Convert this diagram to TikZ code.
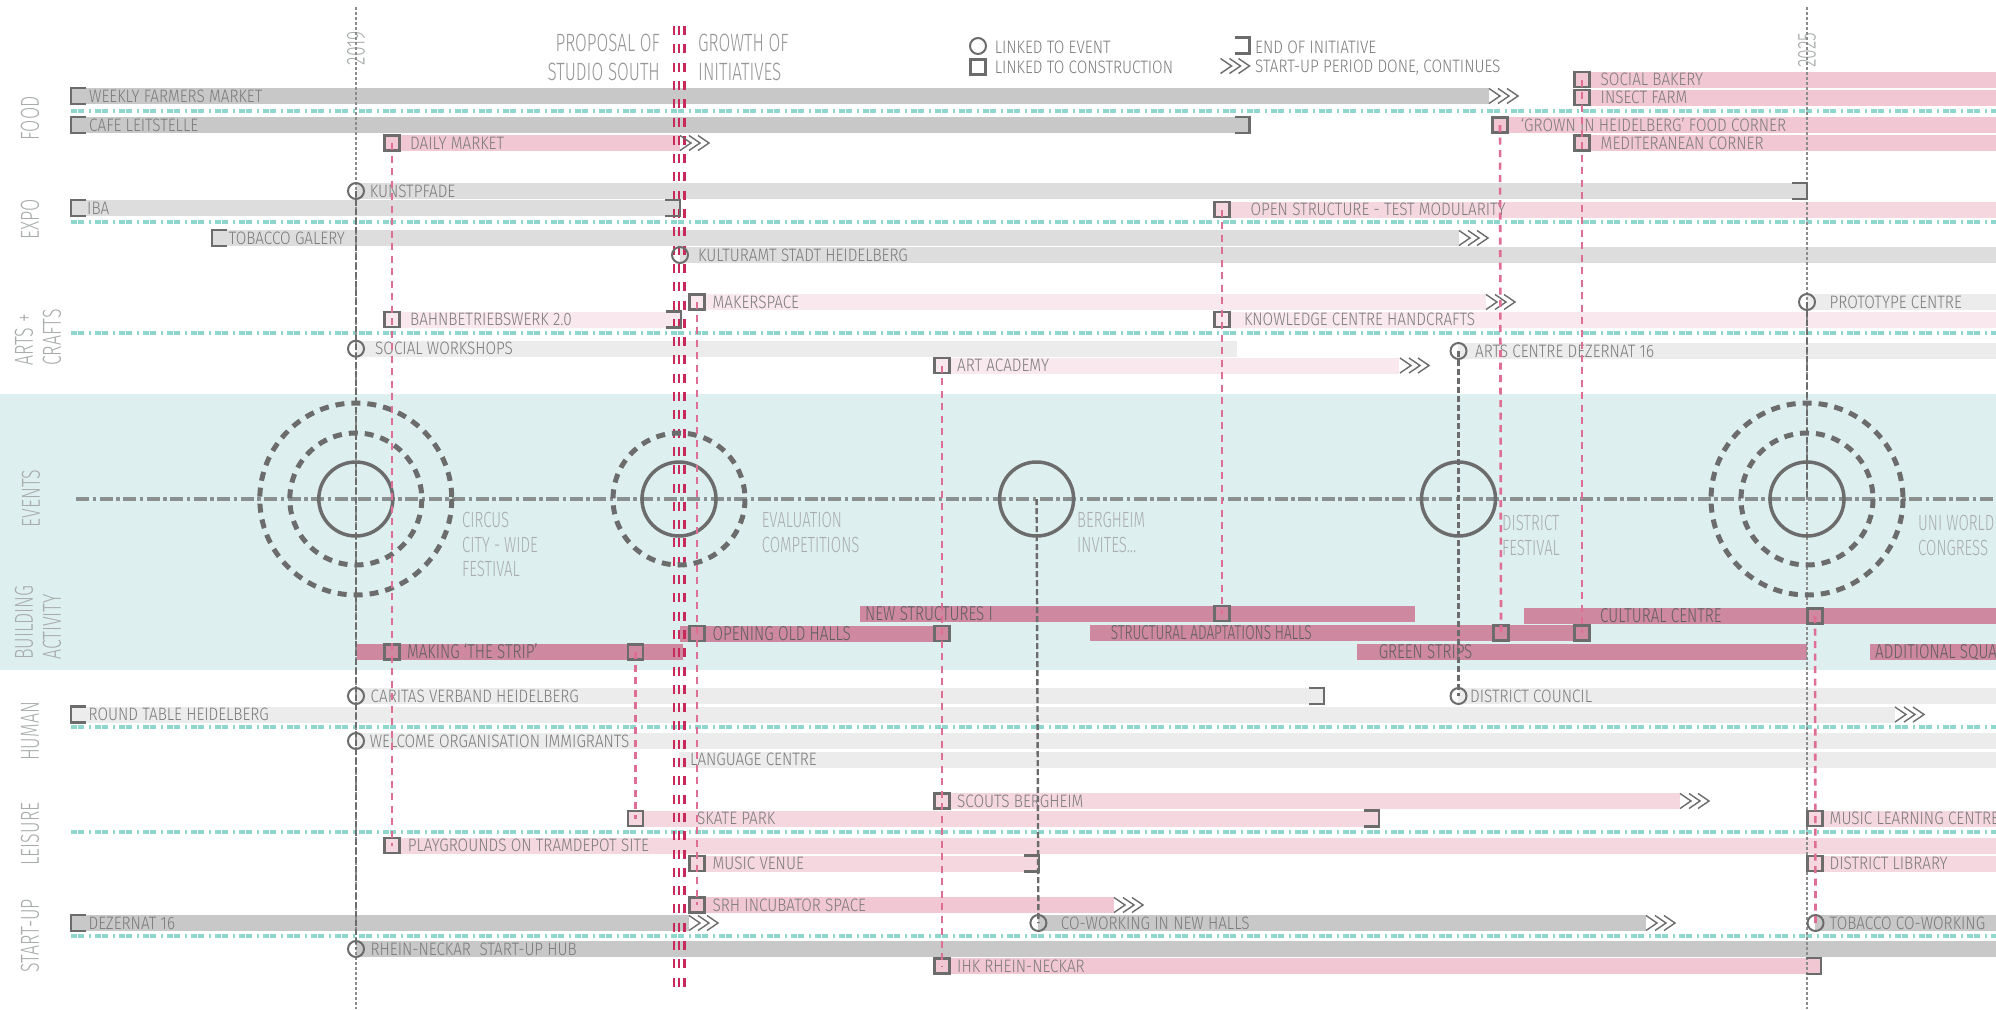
\documentclass[tikz,border=0pt]{standalone}
\usepackage{fontspec}
\usepackage{xcolor}
\usepackage{tikz}
\usetikzlibrary{positioning}
\newfontfamily\lblfont{Fira Sans Light}[FakeStretch=0.85]
\newfontfamily\cndfont{Fira Sans Light}[FakeStretch=0.68]
\newfontfamily\bldfont{Fira Sans Light}[FakeStretch=0.76]
\definecolor{tlteal}{RGB}{221,240,239}
\definecolor{tllane}{RGB}{143,214,207}
\definecolor{tldark}{RGB}{108,108,108}
\definecolor{tlgrayA}{RGB}{200,200,200}
\definecolor{tlgrayB}{RGB}{221,221,221}
\definecolor{tlgrayC}{RGB}{236,236,236}
\definecolor{tlpinkA}{RGB}{240,199,211}
\definecolor{tlpinkB}{RGB}{245,215,224}
\definecolor{tlpinkC}{RGB}{249,232,238}
\definecolor{tlbuild}{RGB}{206,136,159}
\definecolor{tlcrimson}{RGB}{200,40,90}
\definecolor{tlrose}{RGB}{222,110,147}
\definecolor{tltext}{RGB}{122,122,122}
\definecolor{tlbldtext}{RGB}{95,95,95}
\definecolor{tllight}{RGB}{168,172,172}
\definecolor{tlhead}{RGB}{150,150,150}
\definecolor{tlaxis}{RGB}{138,144,144}
\definecolor{tlyear}{RGB}{140,140,140}

\begin{document}
\begin{tikzpicture}[x=1pt,y=-1pt,
  sqm/.style={rectangle,draw=tldark,line width=2.2pt,minimum size=15pt,inner sep=0pt},
  evm/.style={circle,draw=tldark,line width=2pt,minimum size=16pt,inner sep=0pt},
  lbl/.style={anchor=west,inner sep=0pt,text=tltext,font=\lblfont\fontsize{18}{21}\selectfont,text height=12.4pt,text depth=0pt},
  bld/.style={anchor=west,inner sep=0pt,text=tlbldtext,font=\bldfont\fontsize{20}{24}\selectfont,text height=13.8pt,text depth=0pt},
  evlbl/.style={anchor=north west,inner sep=0pt,align=left,text=tllight,font=\cndfont\fontsize{22}{24.5}\selectfont},
  cat/.style={rotate=90,inner sep=0pt,text=tllight,font=\cndfont\fontsize{26}{28}\selectfont},
  head/.style={inner sep=0pt,text=tlhead,font=\cndfont\fontsize{25}{29}\selectfont},
  evc/.style={circle,draw=tldark,line width=3.5pt,minimum size=74pt,inner sep=0pt},
  ring/.style={draw=tldark,line width=5pt,dash pattern=on 9pt off 7pt},
  lane/.style={tllane,line width=3.3pt,dash pattern=on 6pt off 1pt on 6pt off 4.5pt on 2pt off 4.5pt},
  evaxis/.style={draw=tlaxis,line width=4.5pt,dash pattern=on 13pt off 3.5pt on 3.5pt off 3.5pt},
  yraxis/.style={draw=tlyear,line width=1.6pt,dash pattern=on 3pt off 2pt},
  evlink/.style={draw=tldark,line width=2.4pt,dash pattern=on 6pt off 3pt},
  clink/.style={draw=tlrose,line width=2.6pt,dash pattern=on 7pt off 5.5pt},
  crim/.style={draw=tlcrimson,line width=2.6pt,dash pattern=on 9pt off 9.3pt},
  startbr/.pic={\draw[tldark,line width=2.4pt] (15,-8) -- (0,-8) -- (0,8) -- (15,8);},
  endbr/.pic={\draw[tldark,line width=2.4pt] (-15,-8) -- (0,-8) -- (0,8) -- (-15,8);},
  chev/.pic={\foreach \i in {0,9,18} \draw[tldark,line width=1.4pt] (\i,-7.5) -- (\i+11,0) -- (\i,7.5);}
]
\useasboundingbox (0,0) rectangle (1996,1009);
\fill[white] (0,0) rectangle (1996,1009);
\fill[tlteal] (0,394) rectangle (1996,670);

% bars: food
\fill[tlgrayA] (71,88) rectangle (1489,104);
\fill[tlgrayA] (71,117) rectangle (1249.5,133);
\fill[tlpinkA] (385,135) rectangle (680,151);
\fill[tlpinkA] (1574,71.5) rectangle (1996,87.5);
\fill[tlpinkA] (1574,89.5) rectangle (1996,105.5);
\fill[tlpinkA] (1492,117) rectangle (1996,133);
\fill[tlpinkA] (1574,135) rectangle (1996,151);
% bars: expo
\fill[tlgrayB] (356,183) rectangle (1807,199);
\fill[tlgrayB] (71,200) rectangle (680,216);
\fill[tlpinkB] (1214,201.5) rectangle (1996,217.5);
\fill[tlgrayB] (212,230) rectangle (1459,246);
\fill[tlgrayB] (680,247) rectangle (1996,263);
% bars: arts + crafts
\fill[tlpinkC] (690,294) rectangle (1486,310);
\fill[tlgrayC] (1807,294) rectangle (1996,310);
\fill[tlpinkC] (385,311.5) rectangle (681,327.5);
\fill[tlpinkC] (1214,311.5) rectangle (1996,327.5);
\fill[tlgrayC] (356,340.7) rectangle (1237,356.7);
\fill[tlgrayC] (1458,343) rectangle (1996,359);
\fill[tlpinkC] (934,357.5) rectangle (1399,373.5);
% bars: building activity
\fill[tlbuild] (860,605.7) rectangle (1414.5,621.7);
\fill[tlbuild] (680,625.7) rectangle (949,641.7);
\fill[tlbuild] (357,644) rectangle (683,660);
\fill[tlbuild] (1090,625) rectangle (1591,641);
\fill[tlbuild] (1524,608) rectangle (1996,624);
\fill[tlbuild] (1357,644) rectangle (1807,660);
\fill[tlbuild] (1870,644) rectangle (1996,660);
% bars: human
\fill[tlgrayC] (356,688) rectangle (1324,704);
\fill[tlgrayC] (1458,688) rectangle (1996,704);
\fill[tlgrayC] (71,706.5) rectangle (1895,722.5);
\fill[tlgrayC] (356,733) rectangle (1996,749);
\fill[tlgrayC] (679,751.5) rectangle (1996,767.5);
% bars: leisure
\fill[tlpinkB] (934,793) rectangle (1680,809);
\fill[tlpinkB] (627,810.5) rectangle (1379,826.5);
\fill[tlpinkB] (1807,810.5) rectangle (1996,826.5);
\fill[tlpinkB] (385,837.5) rectangle (1996,853.5);
\fill[tlpinkB] (689,855.5) rectangle (1039,871.5);
\fill[tlpinkB] (1807,855.5) rectangle (1996,871.5);
% bars: start-up
\fill[tlpinkA] (689,897) rectangle (1114,913);
\fill[tlgrayA] (71,915) rectangle (689,931);
\fill[tlgrayA] (1038,915) rectangle (1646,931);
\fill[tlgrayA] (1815,915) rectangle (1996,931);
\fill[tlgrayA] (356,941) rectangle (1996,957);
\fill[tlpinkA] (934,958) rectangle (1821,974);

% lanes
\foreach \y in {111,222,333,727,832,936}
  \draw[lane] (71,\y) -- (1996,\y);

% year axes and proposal line
\node[cat,text=tllight] (y19) at (356,48) {2019};
\node[cat,text=tllight] (y25) at (1807,50) {2025};
\coordinate (y19top) at (356,7);
\coordinate (y19bot) at (356,1009);
\coordinate (y25top) at (1807,7);
\coordinate (y25bot) at (1807,1009);
\draw[yraxis] (y19top) -- (y19bot);
\draw[yraxis] (y25top) -- (y25bot);
\coordinate (gtop) at (679,26);
\coordinate (gbot) at (679,993);
\foreach \dx in {-5.2,0,5.2}
  \draw[crim] ([xshift=\dx pt]gtop) -- ([xshift=\dx pt]gbot);

% events
\coordinate (evl) at (76,499);
\coordinate (evr) at (1996,499);
\draw[evaxis] (evl) -- (evr);
\node[evc] (circus) at (355.8,499) {};
\node[evc] (evalu) at (679,499) {};
\node[evc] (berg) at (1036.6,499) {};
\node[evc] (dist) at (1458.5,499) {};
\node[evc] (uni) at (1807,499) {};
\draw[ring] (circus.center) circle[radius=66] (circus.center) circle[radius=96];
\draw[ring] (evalu.center) circle[radius=66];
\draw[ring] (uni.center) circle[radius=66] (uni.center) circle[radius=96];
\node[evlbl] (tcirc) at (462,512.4) {CIRCUS\\CITY - WIDE\\FESTIVAL};
\node[evlbl] (teval) at (761.6,512.4) {EVALUATION\\COMPETITIONS};
\node[evlbl] (tberg) at (1077,512.4) {BERGHEIM\\INVITES...};
\node[evlbl] (tdist) at (1502,515.4) {DISTRICT\\FESTIVAL};
\node[evlbl] (tuni) at (1918,515.4) {UNI WORLD\\CONGRESS};

% brackets and chevrons
\pic at (71,96) {startbr};      \pic at (1489,96) {chev};
\pic at (71,125) {startbr};     \pic at (1249.5,125) {endbr};
\pic at (680,143) {chev};
\pic at (1807,191) {endbr};
\pic at (71,208) {startbr};     \pic at (680,208) {endbr};
\pic at (212,238) {startbr};    \pic at (1459,238) {chev};
\pic at (1486,302) {chev};
\pic at (681,319.5) {endbr};
\pic at (1400,365.5) {chev};
\pic at (1324,696) {endbr};
\pic at (71,714.5) {startbr};   \pic at (1895,714.5) {chev};
\pic at (1680,801) {chev};
\pic at (1379,818.5) {endbr};
\pic at (1039,863.5) {endbr};
\pic at (1114,905) {chev};
\pic at (71,923) {startbr};     \pic at (689,923) {chev};
\pic at (1646,923) {chev};
\pic at (1821,966) {endbr};

% food
\node[lbl] (wfm) at (89,96) {WEEKLY FARMERS MARKET};
\node[lbl] (cafe) at (89,125) {CAFE LEITSTELLE};
\node[sqm] (dmq) at (392,143) {};
\node[lbl] (dm) at (410,143) {DAILY MARKET};
\node[sqm] (sbq) at (1582,79.5) {};
\node[lbl] (sb) at (1600.5,79.5) {SOCIAL BAKERY};
\node[sqm] (ifq) at (1582,97.5) {};
\node[lbl] (if) at (1600.5,97.5) {INSECT FARM};
\node[sqm] (ghq) at (1500,125) {};
\node[lbl] (gh) at (1520.6,125) {‘GROWN IN HEIDELBERG’ FOOD CORNER};
\node[sqm] (mcq) at (1582,143) {};
\node[lbl] (mc) at (1600.5,143) {MEDITERANEAN CORNER};
% expo
\node[evm] (kpc) at (356,191) {};
\node[lbl] (kp) at (369.6,191) {KUNSTPFADE};
\node[lbl] (iba) at (87,208) {IBA};
\node[sqm] (osq) at (1222,209.5) {};
\node[lbl] (os) at (1250.4,209.5) {OPEN STRUCTURE - TEST MODULARITY};
\node[lbl] (tg) at (228.6,238) {TOBACCO GALERY};
\node[evm] (kac) at (680,255) {};
\node[lbl] (ka) at (697.8,255) {KULTURAMT STADT HEIDELBERG};
% arts + crafts
\node[sqm] (mkq) at (697,302) {};
\node[lbl] (mk) at (712.5,302) {MAKERSPACE};
\node[evm] (pcc) at (1807,302) {};
\node[lbl] (pc) at (1829.5,302) {PROTOTYPE CENTRE};
\node[sqm] (bbq) at (392,319.5) {};
\node[lbl] (bb) at (410,319.5) {BAHNBETRIEBSWERK 2.0};
\node[sqm] (kcq) at (1222,319.5) {};
\node[lbl] (kc) at (1243.8,319.5) {KNOWLEDGE CENTRE HANDCRAFTS};
\node[evm] (swc) at (356,348.7) {};
\node[lbl] (sw) at (375,348.7) {SOCIAL WORKSHOPS};
\node[evm] (acdc) at (1458.5,351) {};
\node[lbl] (acd) at (1475,351) {ARTS CENTRE DEZERNAT 16};
\node[sqm] (aaq) at (942,365.5) {};
\node[lbl] (aa) at (957,365.5) {ART ACADEMY};
% building activity
\node[sqm] (nsq) at (1222,613.7) {};
\node[bld] (ns) at (865,613.7) {NEW STRUCTURES I};
\node[sqm] (oohq1) at (697,633.7) {};
\node[sqm] (oohq2) at (942,633.7) {};
\node[bld] (ooh) at (712.5,633.7) {OPENING OLD HALLS};
\node[sqm] (msq1) at (392,652) {};
\node[sqm] (msq2) at (635.5,652) {};
\node[bld] (ms) at (407,652) {MAKING ‘THE STRIP’};
\node[sqm] (saq1) at (1501,633) {};
\node[sqm] (saq2) at (1582,633) {};
\node[bld,font=\cndfont\fontsize{20}{24}\selectfont] (sa) at (1110.7,633) {STRUCTURAL ADAPTATIONS HALLS};
\node[sqm] (ccq) at (1815,616) {};
\node[bld] (cc) at (1600,616) {CULTURAL CENTRE};
\node[bld] (gs) at (1378.6,652) {GREEN STRIPS};
\node[bld] (as) at (1875,652) {ADDITIONAL SQUARES};
% human
\node[evm] (carc) at (356,696) {};
\node[lbl] (car) at (370.5,696) {CARITAS VERBAND HEIDELBERG};
\node[evm] (dclc) at (1458.5,696) {};
\node[lbl] (dcl) at (1470,696) {DISTRICT COUNCIL};
\node[lbl] (rt) at (88.4,714.5) {ROUND TABLE HEIDELBERG};
\node[evm] (welc) at (356,741) {};
\node[lbl] (wel) at (369.6,741) {WELCOME ORGANISATION IMMIGRANTS};
\node[lbl] (lang) at (690,759.5) {LANGUAGE CENTRE};
% leisure
\node[sqm] (scq) at (942,801) {};
\node[lbl] (sc) at (957,801) {SCOUTS BERGHEIM};
\node[sqm] (spq) at (635.5,818.5) {};
\node[lbl] (sp) at (697,818.5) {SKATE PARK};
\node[sqm] (mlcq) at (1815,818.5) {};
\node[lbl] (mlc) at (1829.5,818.5) {MUSIC LEARNING CENTRE};
\node[sqm] (pgq) at (392,845.5) {};
\node[lbl] (pg) at (407.6,845.5) {PLAYGROUNDS ON TRAMDEPOT SITE};
\node[sqm] (mvq) at (697,863.5) {};
\node[lbl] (mv) at (712.5,863.5) {MUSIC VENUE};
\node[sqm] (dlq) at (1815,863.5) {};
\node[lbl] (dl) at (1829.5,863.5) {DISTRICT LIBRARY};
% start-up
\node[sqm] (srhq) at (697,905) {};
\node[lbl] (srh) at (712.5,905) {SRH INCUBATOR SPACE};
\node[lbl] (dz) at (88.4,923) {DEZERNAT 16};
\node[evm] (cwc) at (1038.4,923) {};
\node[lbl] (cw) at (1060.7,923) {CO-WORKING IN NEW HALLS};
\node[evm] (tcwc) at (1815.5,923) {};
\node[lbl] (tcw) at (1829.5,923) {TOBACCO CO-WORKING};
\node[evm] (rnhc) at (356,949) {};
\node[lbl] (rnh) at (370.5,949) {RHEIN-NECKAR\ \ START-UP HUB};
\node[sqm] (ihkq) at (942,966) {};
\node[lbl] (ihk) at (957,966) {IHK RHEIN-NECKAR};

% links to construction
\draw[clink] (dmq.center) -- (pgq.center);
\draw[clink] (msq2.center) -- (spq.center);
\draw[clink] (mkq.center) -- (srhq.center);
\draw[clink] (aaq.center) -- (ihkq.center);
\draw[clink] (osq.center) -- (nsq.center);
\draw[clink] (ghq.center) -- (saq1.center);
\draw[clink] (sbq.center) -- (saq2.center);
\draw[clink] (ccq.center) -- (tcwc.center);
% links to events
\draw[evlink] (kpc.center) -- (rnhc.center);
\draw[evlink] (berg.center) -- (cwc.center);
\draw[evlink] (acdc.center) -- (dclc.center);
\draw[evlink] (pcc.center) -- (uni.center);

% categories
\node[cat] (cfood) at (30,118.5) {FOOD};
\node[cat] (cexpo) at (30,219) {EXPO};
\node[cat,anchor=west,align=left] (carts) at (38,366) {ARTS +\\CRAFTS};
\node[cat] (cevents) at (31,498.5) {EVENTS};
\node[cat,anchor=west,align=left] (cbuild) at (38,660) {BUILDING\\ACTIVITY};
\node[cat] (chuman) at (30,731.5) {HUMAN};
\node[cat] (cleis) at (30,834) {LEISURE};
\node[cat] (cstart) at (30,936) {START-UP};

% headings and legend
\node[head,anchor=north east,align=right] (prop) at (660,34) {PROPOSAL OF\\STUDIO SOUTH};
\node[head,anchor=north west,align=left] (grow) at (698,34) {GROWTH OF\\INITIATIVES};
\node[evm] (lgev) at (978,46) {};
\node[lbl] (lgevt) at (994.6,47) {LINKED TO EVENT};
\node[sqm] (lgsq) at (978,67) {};
\node[lbl] (lgsqt) at (994.6,67.7) {LINKED TO CONSTRUCTION};
\pic at (1249.5,45.5) {endbr};
\node[lbl] (lgend) at (1255,47) {END OF INITIATIVE};
\pic at (1220.5,66) {chev};
\node[lbl] (lgchev) at (1255,66) {START-UP PERIOD DONE, CONTINUES};
\end{tikzpicture}
\end{document}
